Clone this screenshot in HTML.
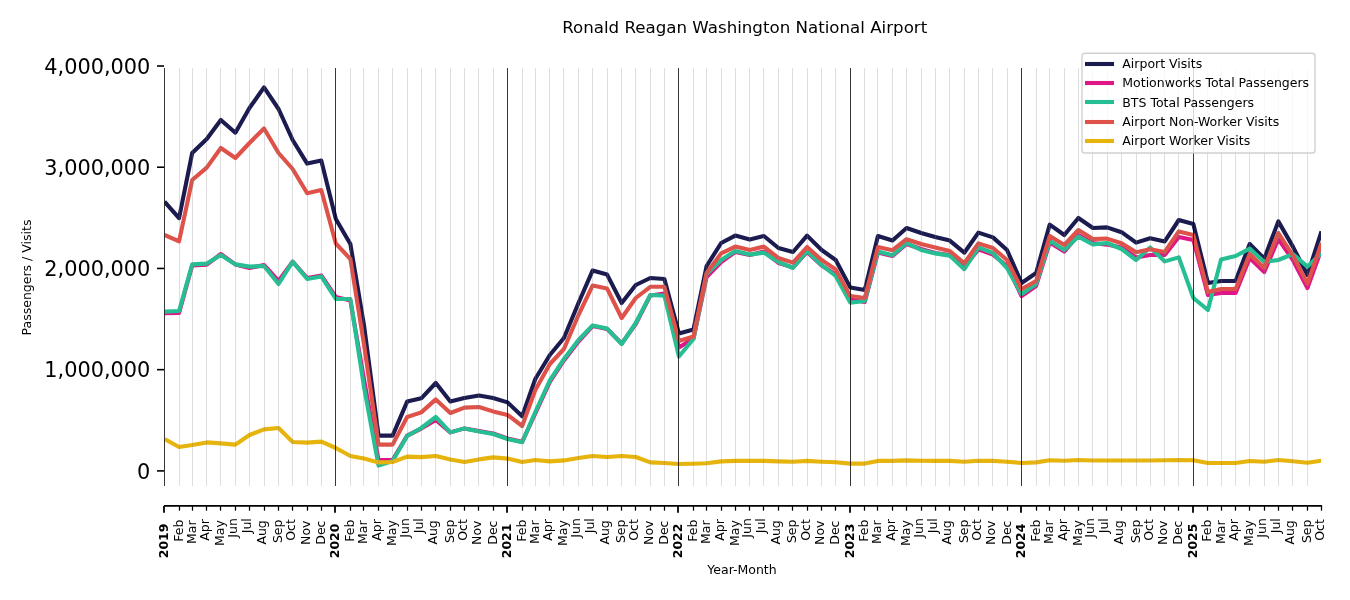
<!DOCTYPE html>
<html lang="en"><head><meta charset="utf-8"><title>Ronald Reagan Washington National Airport</title>
<style>
html,body{margin:0;padding:0;background:#fff;}
body{width:1350px;height:600px;overflow:hidden;}
svg{display:block;font-family:"DejaVu Sans","Liberation Sans",sans-serif;fill:#000;}
.grid line{stroke:#808080;stroke-opacity:0.26;stroke-width:1;shape-rendering:crispEdges;}
.yr line{stroke:#000;stroke-opacity:0.78;stroke-width:1;shape-rendering:crispEdges;}
.ser polyline{fill:none;stroke-width:4.1;stroke-linejoin:round;stroke-linecap:butt;}
.ytl text{font-size:20.83px;text-anchor:end;}
.xtl text{font-size:12.5px;text-anchor:end;}
.xtl text.y{font-size:12.5px;font-weight:bold;}
.leg text{font-size:12.5px;}
</style></head><body>
<svg width="1350" height="600" viewBox="0 0 1350 600">
<rect width="1350" height="600" fill="#fff"/>
<clipPath id="ax"><rect x="164.50" y="68.30" width="1156.50" height="417.20"/></clipPath>

<g class="ser" clip-path="url(#ax)">
<polyline stroke="#1b1b50" points="164.50,201.60 179.05,218.20 192.19,153.00 206.74,139.00 220.82,120.00 235.38,132.70 249.46,108.00 264.01,87.40 278.56,109.00 292.64,140.00 307.19,163.60 321.27,160.50 335.82,219.00 350.37,244.00 363.98,325.00 378.53,435.60 392.61,435.60 407.16,401.60 421.25,398.30 435.80,383.00 450.35,401.60 464.43,398.00 478.98,395.60 493.06,398.00 507.61,402.40 522.16,416.30 535.30,379.00 549.85,355.00 563.93,338.00 578.49,303.00 592.57,270.60 607.12,274.60 621.67,303.00 635.75,285.00 650.30,278.00 664.38,279.00 678.93,333.50 693.48,329.50 706.62,266.00 721.17,243.00 735.26,235.60 749.81,239.60 763.89,236.00 778.44,248.00 792.99,252.00 807.07,235.60 821.62,250.00 835.70,260.00 850.25,287.40 864.80,290.00 877.94,236.00 892.49,240.50 906.58,228.00 921.13,233.00 935.21,237.00 949.76,240.60 964.31,252.70 978.39,232.60 992.94,237.40 1007.02,250.00 1021.57,283.00 1036.12,273.00 1049.73,224.60 1064.28,235.00 1078.37,218.00 1092.92,228.00 1107.00,227.40 1121.55,232.20 1136.10,242.60 1150.18,238.30 1164.73,241.40 1178.81,220.00 1193.36,224.00 1207.91,283.00 1221.05,281.00 1235.61,281.00 1249.69,244.00 1264.24,258.70 1278.32,221.40 1292.87,246.60 1307.42,275.00 1321.50,231.40"/>
<polyline stroke="#de1686" points="164.50,313.20 179.05,313.00 192.19,265.40 206.74,264.60 220.82,254.00 235.38,264.40 249.46,268.00 264.01,265.00 278.56,281.00 292.64,261.60 307.19,278.00 321.27,275.50 335.82,297.00 350.37,300.50 363.98,379.00 378.53,460.00 392.61,460.00 407.16,435.60 421.25,428.60 435.80,420.00 450.35,432.40 464.43,428.40 478.98,431.00 493.06,433.50 507.61,438.50 522.16,441.80 535.30,413.50 549.85,382.00 563.93,360.50 578.49,341.50 592.57,326.00 607.12,329.00 621.67,343.50 635.75,324.00 650.30,295.50 664.38,293.50 678.93,347.50 693.48,338.50 706.62,277.00 721.17,262.00 735.26,252.00 749.81,255.00 763.89,251.60 778.44,263.00 792.99,267.40 807.07,252.00 821.62,265.40 835.70,274.40 850.25,299.40 864.80,302.00 877.94,252.40 892.49,256.00 906.58,244.00 921.13,249.00 935.21,253.00 949.76,255.00 964.31,267.00 978.39,249.40 992.94,254.60 1007.02,266.00 1021.57,296.00 1036.12,286.00 1049.73,242.60 1064.28,251.60 1078.37,235.00 1092.92,243.00 1107.00,244.60 1121.55,247.40 1136.10,257.40 1150.18,255.00 1164.73,255.00 1178.81,237.00 1193.36,240.00 1207.91,295.00 1221.05,293.00 1235.61,293.00 1249.69,258.00 1264.24,272.00 1278.32,239.00 1292.87,260.00 1307.42,288.00 1321.50,249.00"/>
<polyline stroke="#26bf94" points="164.50,311.60 179.05,311.00 192.19,264.40 206.74,263.60 220.82,255.00 235.38,264.40 249.46,266.60 264.01,266.00 278.56,284.00 292.64,261.60 307.19,279.00 321.27,276.40 335.82,299.00 350.37,299.00 363.98,387.00 378.53,465.60 392.61,461.00 407.16,436.00 421.25,428.00 435.80,417.00 450.35,432.40 464.43,428.40 478.98,431.60 493.06,434.00 507.61,439.00 522.16,442.30 535.30,412.00 549.85,380.40 563.93,359.00 578.49,340.00 592.57,325.40 607.12,328.60 621.67,344.00 635.75,323.00 650.30,295.00 664.38,295.60 678.93,356.50 693.48,339.00 706.62,274.00 721.17,260.00 735.26,251.00 749.81,254.60 763.89,252.60 778.44,262.00 792.99,268.00 807.07,251.00 821.62,265.00 835.70,276.00 850.25,302.60 864.80,301.00 877.94,251.40 892.49,255.20 906.58,243.00 921.13,250.00 935.21,253.40 949.76,255.60 964.31,269.20 978.39,247.40 992.94,253.00 1007.02,268.00 1021.57,294.00 1036.12,284.00 1049.73,240.60 1064.28,250.00 1078.37,236.60 1092.92,244.40 1107.00,243.00 1121.55,249.00 1136.10,260.00 1150.18,247.50 1164.73,261.40 1178.81,257.40 1193.36,298.00 1207.91,310.00 1221.05,259.40 1235.61,256.00 1249.69,248.60 1264.24,262.00 1278.32,260.00 1292.87,254.00 1307.42,266.60 1321.50,253.00"/>
<polyline stroke="#df524a" points="164.50,235.00 179.05,241.40 192.19,180.00 206.74,167.60 220.82,148.00 235.38,158.00 249.46,143.00 264.01,128.50 278.56,153.00 292.64,169.00 307.19,193.20 321.27,190.00 335.82,243.50 350.37,259.00 363.98,344.40 378.53,444.60 392.61,444.60 407.16,417.00 421.25,412.40 435.80,399.40 450.35,413.00 464.43,407.60 478.98,407.00 493.06,411.40 507.61,415.00 522.16,426.00 535.30,390.00 549.85,364.00 563.93,349.00 578.49,315.00 592.57,285.60 607.12,288.60 621.67,318.00 635.75,298.00 650.30,286.80 664.38,286.80 678.93,341.00 693.48,336.50 706.62,273.00 721.17,253.40 735.26,246.60 749.81,250.00 763.89,246.60 778.44,258.00 792.99,262.60 807.07,247.00 821.62,260.00 835.70,269.40 850.25,296.00 864.80,298.00 877.94,247.00 892.49,250.20 906.58,239.20 921.13,244.00 935.21,247.40 949.76,251.00 964.31,263.20 978.39,243.40 992.94,248.00 1007.02,260.00 1021.57,289.00 1036.12,281.00 1049.73,236.00 1064.28,245.00 1078.37,230.00 1092.92,239.00 1107.00,238.60 1121.55,243.20 1136.10,252.20 1150.18,249.30 1164.73,252.00 1178.81,231.40 1193.36,235.00 1207.91,292.00 1221.05,289.00 1235.61,289.00 1249.69,254.00 1264.24,268.00 1278.32,233.00 1292.87,255.40 1307.42,283.60 1321.50,243.00"/>
<polyline stroke="#e6b40c" points="164.50,439.00 179.05,447.00 192.19,445.00 206.74,442.40 220.82,443.40 235.38,444.60 249.46,435.00 264.01,429.40 278.56,428.00 292.64,442.00 307.19,442.60 321.27,441.60 335.82,448.00 350.37,456.00 363.98,458.40 378.53,462.40 392.61,462.00 407.16,456.60 421.25,457.10 435.80,456.00 450.35,459.60 464.43,462.00 478.98,459.40 493.06,457.40 507.61,458.60 522.16,462.00 535.30,460.00 549.85,461.40 563.93,460.40 578.49,458.00 592.57,456.00 607.12,457.00 621.67,456.00 635.75,457.00 650.30,462.40 664.38,463.00 678.93,464.00 693.48,463.70 706.62,463.20 721.17,461.40 735.26,460.90 749.81,460.90 763.89,460.90 778.44,461.40 792.99,461.70 807.07,460.90 821.62,461.70 835.70,462.30 850.25,463.60 864.80,463.60 877.94,460.90 892.49,460.90 906.58,460.40 921.13,460.80 935.21,460.90 949.76,460.90 964.31,461.70 978.39,460.70 992.94,460.90 1007.02,461.70 1021.57,463.00 1036.12,462.40 1049.73,460.30 1064.28,460.80 1078.37,460.00 1092.92,460.50 1107.00,460.50 1121.55,460.50 1136.10,460.50 1150.18,460.50 1164.73,460.30 1178.81,460.00 1193.36,460.20 1207.91,463.00 1221.05,463.00 1235.61,463.00 1249.69,461.00 1264.24,461.70 1278.32,460.00 1292.87,461.30 1307.42,462.70 1321.50,460.70"/>
</g>
<g class="grid">
<line x1="179.05" y1="68.30" x2="179.05" y2="485.50"/>
<line x1="192.19" y1="68.30" x2="192.19" y2="485.50"/>
<line x1="206.74" y1="68.30" x2="206.74" y2="485.50"/>
<line x1="220.82" y1="68.30" x2="220.82" y2="485.50"/>
<line x1="235.38" y1="68.30" x2="235.38" y2="485.50"/>
<line x1="249.46" y1="68.30" x2="249.46" y2="485.50"/>
<line x1="264.01" y1="68.30" x2="264.01" y2="485.50"/>
<line x1="278.56" y1="68.30" x2="278.56" y2="485.50"/>
<line x1="292.64" y1="68.30" x2="292.64" y2="485.50"/>
<line x1="307.19" y1="68.30" x2="307.19" y2="485.50"/>
<line x1="321.27" y1="68.30" x2="321.27" y2="485.50"/>
<line x1="350.37" y1="68.30" x2="350.37" y2="485.50"/>
<line x1="363.98" y1="68.30" x2="363.98" y2="485.50"/>
<line x1="378.53" y1="68.30" x2="378.53" y2="485.50"/>
<line x1="392.61" y1="68.30" x2="392.61" y2="485.50"/>
<line x1="407.16" y1="68.30" x2="407.16" y2="485.50"/>
<line x1="421.25" y1="68.30" x2="421.25" y2="485.50"/>
<line x1="435.80" y1="68.30" x2="435.80" y2="485.50"/>
<line x1="450.35" y1="68.30" x2="450.35" y2="485.50"/>
<line x1="464.43" y1="68.30" x2="464.43" y2="485.50"/>
<line x1="478.98" y1="68.30" x2="478.98" y2="485.50"/>
<line x1="493.06" y1="68.30" x2="493.06" y2="485.50"/>
<line x1="522.16" y1="68.30" x2="522.16" y2="485.50"/>
<line x1="535.30" y1="68.30" x2="535.30" y2="485.50"/>
<line x1="549.85" y1="68.30" x2="549.85" y2="485.50"/>
<line x1="563.93" y1="68.30" x2="563.93" y2="485.50"/>
<line x1="578.49" y1="68.30" x2="578.49" y2="485.50"/>
<line x1="592.57" y1="68.30" x2="592.57" y2="485.50"/>
<line x1="607.12" y1="68.30" x2="607.12" y2="485.50"/>
<line x1="621.67" y1="68.30" x2="621.67" y2="485.50"/>
<line x1="635.75" y1="68.30" x2="635.75" y2="485.50"/>
<line x1="650.30" y1="68.30" x2="650.30" y2="485.50"/>
<line x1="664.38" y1="68.30" x2="664.38" y2="485.50"/>
<line x1="693.48" y1="68.30" x2="693.48" y2="485.50"/>
<line x1="706.62" y1="68.30" x2="706.62" y2="485.50"/>
<line x1="721.17" y1="68.30" x2="721.17" y2="485.50"/>
<line x1="735.26" y1="68.30" x2="735.26" y2="485.50"/>
<line x1="749.81" y1="68.30" x2="749.81" y2="485.50"/>
<line x1="763.89" y1="68.30" x2="763.89" y2="485.50"/>
<line x1="778.44" y1="68.30" x2="778.44" y2="485.50"/>
<line x1="792.99" y1="68.30" x2="792.99" y2="485.50"/>
<line x1="807.07" y1="68.30" x2="807.07" y2="485.50"/>
<line x1="821.62" y1="68.30" x2="821.62" y2="485.50"/>
<line x1="835.70" y1="68.30" x2="835.70" y2="485.50"/>
<line x1="864.80" y1="68.30" x2="864.80" y2="485.50"/>
<line x1="877.94" y1="68.30" x2="877.94" y2="485.50"/>
<line x1="892.49" y1="68.30" x2="892.49" y2="485.50"/>
<line x1="906.58" y1="68.30" x2="906.58" y2="485.50"/>
<line x1="921.13" y1="68.30" x2="921.13" y2="485.50"/>
<line x1="935.21" y1="68.30" x2="935.21" y2="485.50"/>
<line x1="949.76" y1="68.30" x2="949.76" y2="485.50"/>
<line x1="964.31" y1="68.30" x2="964.31" y2="485.50"/>
<line x1="978.39" y1="68.30" x2="978.39" y2="485.50"/>
<line x1="992.94" y1="68.30" x2="992.94" y2="485.50"/>
<line x1="1007.02" y1="68.30" x2="1007.02" y2="485.50"/>
<line x1="1036.12" y1="68.30" x2="1036.12" y2="485.50"/>
<line x1="1049.73" y1="68.30" x2="1049.73" y2="485.50"/>
<line x1="1064.28" y1="68.30" x2="1064.28" y2="485.50"/>
<line x1="1078.37" y1="68.30" x2="1078.37" y2="485.50"/>
<line x1="1092.92" y1="68.30" x2="1092.92" y2="485.50"/>
<line x1="1107.00" y1="68.30" x2="1107.00" y2="485.50"/>
<line x1="1121.55" y1="68.30" x2="1121.55" y2="485.50"/>
<line x1="1136.10" y1="68.30" x2="1136.10" y2="485.50"/>
<line x1="1150.18" y1="68.30" x2="1150.18" y2="485.50"/>
<line x1="1164.73" y1="68.30" x2="1164.73" y2="485.50"/>
<line x1="1178.81" y1="68.30" x2="1178.81" y2="485.50"/>
<line x1="1207.91" y1="68.30" x2="1207.91" y2="485.50"/>
<line x1="1221.05" y1="68.30" x2="1221.05" y2="485.50"/>
<line x1="1235.61" y1="68.30" x2="1235.61" y2="485.50"/>
<line x1="1249.69" y1="68.30" x2="1249.69" y2="485.50"/>
<line x1="1264.24" y1="68.30" x2="1264.24" y2="485.50"/>
<line x1="1278.32" y1="68.30" x2="1278.32" y2="485.50"/>
<line x1="1292.87" y1="68.30" x2="1292.87" y2="485.50"/>
<line x1="1307.42" y1="68.30" x2="1307.42" y2="485.50"/>
</g>
<g class="yr">
<line x1="164.50" y1="68.30" x2="164.50" y2="485.50"/>
<line x1="335.82" y1="68.30" x2="335.82" y2="485.50"/>
<line x1="507.61" y1="68.30" x2="507.61" y2="485.50"/>
<line x1="678.93" y1="68.30" x2="678.93" y2="485.50"/>
<line x1="850.25" y1="68.30" x2="850.25" y2="485.50"/>
<line x1="1021.57" y1="68.30" x2="1021.57" y2="485.50"/>
<line x1="1193.36" y1="68.30" x2="1193.36" y2="485.50"/>
</g>
<g class="ytl">
<line x1="157" y1="470.90" x2="164.1" y2="470.90" stroke="#000" stroke-width="1.6"/>
<text x="150.3" y="478.50">0</text>
<line x1="157" y1="369.67" x2="164.1" y2="369.67" stroke="#000" stroke-width="1.6"/>
<text x="150.3" y="377.27">1,000,000</text>
<line x1="157" y1="268.45" x2="164.1" y2="268.45" stroke="#000" stroke-width="1.6"/>
<text x="150.3" y="276.05">2,000,000</text>
<line x1="157" y1="167.23" x2="164.1" y2="167.23" stroke="#000" stroke-width="1.6"/>
<text x="150.3" y="174.83">3,000,000</text>
<line x1="157" y1="66.00" x2="164.1" y2="66.00" stroke="#000" stroke-width="1.6"/>
<text x="150.3" y="73.60">4,000,000</text>
</g>
<line x1="163.90" y1="505.90" x2="1322.10" y2="505.90" stroke="#000" stroke-width="1.7"/>
<g class="xtl">
<line x1="164.00" y1="505.90" x2="164.00" y2="512.8" stroke="#000" stroke-width="1.8"/>
<text class="y" transform="translate(167.90,523.5) rotate(-90)">2019</text>
<line x1="179.50" y1="505.90" x2="179.50" y2="510.7" stroke="#000" stroke-width="1.25"/>
<text transform="translate(182.80,519.50) rotate(-90)">Feb</text>
<line x1="192.50" y1="505.90" x2="192.50" y2="510.7" stroke="#000" stroke-width="1.25"/>
<text transform="translate(196.17,520.40) rotate(-90)">Mar</text>
<line x1="206.50" y1="505.90" x2="206.50" y2="510.7" stroke="#000" stroke-width="1.25"/>
<text transform="translate(208.60,519.20) rotate(-90)">Apr</text>
<line x1="220.50" y1="505.90" x2="220.50" y2="510.7" stroke="#000" stroke-width="1.25"/>
<text transform="translate(224.10,520.20) rotate(-90)">May</text>
<line x1="235.50" y1="505.90" x2="235.50" y2="510.7" stroke="#000" stroke-width="1.25"/>
<text transform="translate(237.00,518.20) rotate(-90)">Jun</text>
<line x1="249.50" y1="505.90" x2="249.50" y2="510.7" stroke="#000" stroke-width="1.25"/>
<text transform="translate(250.60,518.20) rotate(-90)">Jul</text>
<line x1="264.50" y1="505.90" x2="264.50" y2="510.7" stroke="#000" stroke-width="1.25"/>
<text transform="translate(266.17,520.20) rotate(-90)">Aug</text>
<line x1="278.50" y1="505.90" x2="278.50" y2="510.7" stroke="#000" stroke-width="1.25"/>
<text transform="translate(282.17,519.50) rotate(-90)">Sep</text>
<line x1="292.50" y1="505.90" x2="292.50" y2="510.7" stroke="#000" stroke-width="1.25"/>
<text transform="translate(295.00,519.20) rotate(-90)">Oct</text>
<line x1="307.50" y1="505.90" x2="307.50" y2="510.7" stroke="#000" stroke-width="1.25"/>
<text transform="translate(310.17,520.50) rotate(-90)">Nov</text>
<line x1="321.50" y1="505.90" x2="321.50" y2="510.7" stroke="#000" stroke-width="1.25"/>
<text transform="translate(325.17,520.50) rotate(-90)">Dec</text>
<line x1="335.00" y1="505.90" x2="335.00" y2="512.8" stroke="#000" stroke-width="1.8"/>
<text class="y" transform="translate(338.90,523.5) rotate(-90)">2020</text>
<line x1="350.50" y1="505.90" x2="350.50" y2="510.7" stroke="#000" stroke-width="1.25"/>
<text transform="translate(353.80,519.50) rotate(-90)">Feb</text>
<line x1="363.50" y1="505.90" x2="363.50" y2="510.7" stroke="#000" stroke-width="1.25"/>
<text transform="translate(367.17,520.40) rotate(-90)">Mar</text>
<line x1="378.50" y1="505.90" x2="378.50" y2="510.7" stroke="#000" stroke-width="1.25"/>
<text transform="translate(380.60,519.20) rotate(-90)">Apr</text>
<line x1="392.50" y1="505.90" x2="392.50" y2="510.7" stroke="#000" stroke-width="1.25"/>
<text transform="translate(396.10,520.20) rotate(-90)">May</text>
<line x1="407.50" y1="505.90" x2="407.50" y2="510.7" stroke="#000" stroke-width="1.25"/>
<text transform="translate(409.00,518.20) rotate(-90)">Jun</text>
<line x1="421.50" y1="505.90" x2="421.50" y2="510.7" stroke="#000" stroke-width="1.25"/>
<text transform="translate(422.60,518.20) rotate(-90)">Jul</text>
<line x1="435.50" y1="505.90" x2="435.50" y2="510.7" stroke="#000" stroke-width="1.25"/>
<text transform="translate(437.17,520.20) rotate(-90)">Aug</text>
<line x1="450.50" y1="505.90" x2="450.50" y2="510.7" stroke="#000" stroke-width="1.25"/>
<text transform="translate(454.17,519.50) rotate(-90)">Sep</text>
<line x1="464.50" y1="505.90" x2="464.50" y2="510.7" stroke="#000" stroke-width="1.25"/>
<text transform="translate(467.00,519.20) rotate(-90)">Oct</text>
<line x1="478.50" y1="505.90" x2="478.50" y2="510.7" stroke="#000" stroke-width="1.25"/>
<text transform="translate(481.17,520.50) rotate(-90)">Nov</text>
<line x1="493.50" y1="505.90" x2="493.50" y2="510.7" stroke="#000" stroke-width="1.25"/>
<text transform="translate(497.17,520.50) rotate(-90)">Dec</text>
<line x1="507.00" y1="505.90" x2="507.00" y2="512.8" stroke="#000" stroke-width="1.8"/>
<text class="y" transform="translate(510.90,523.5) rotate(-90)">2021</text>
<line x1="522.50" y1="505.90" x2="522.50" y2="510.7" stroke="#000" stroke-width="1.25"/>
<text transform="translate(525.80,519.50) rotate(-90)">Feb</text>
<line x1="535.50" y1="505.90" x2="535.50" y2="510.7" stroke="#000" stroke-width="1.25"/>
<text transform="translate(539.17,520.40) rotate(-90)">Mar</text>
<line x1="549.50" y1="505.90" x2="549.50" y2="510.7" stroke="#000" stroke-width="1.25"/>
<text transform="translate(551.60,519.20) rotate(-90)">Apr</text>
<line x1="563.50" y1="505.90" x2="563.50" y2="510.7" stroke="#000" stroke-width="1.25"/>
<text transform="translate(567.10,520.20) rotate(-90)">May</text>
<line x1="578.50" y1="505.90" x2="578.50" y2="510.7" stroke="#000" stroke-width="1.25"/>
<text transform="translate(580.00,518.20) rotate(-90)">Jun</text>
<line x1="592.50" y1="505.90" x2="592.50" y2="510.7" stroke="#000" stroke-width="1.25"/>
<text transform="translate(593.60,518.20) rotate(-90)">Jul</text>
<line x1="607.50" y1="505.90" x2="607.50" y2="510.7" stroke="#000" stroke-width="1.25"/>
<text transform="translate(609.17,520.20) rotate(-90)">Aug</text>
<line x1="621.50" y1="505.90" x2="621.50" y2="510.7" stroke="#000" stroke-width="1.25"/>
<text transform="translate(625.17,519.50) rotate(-90)">Sep</text>
<line x1="635.50" y1="505.90" x2="635.50" y2="510.7" stroke="#000" stroke-width="1.25"/>
<text transform="translate(638.00,519.20) rotate(-90)">Oct</text>
<line x1="650.50" y1="505.90" x2="650.50" y2="510.7" stroke="#000" stroke-width="1.25"/>
<text transform="translate(653.17,520.50) rotate(-90)">Nov</text>
<line x1="664.50" y1="505.90" x2="664.50" y2="510.7" stroke="#000" stroke-width="1.25"/>
<text transform="translate(668.17,520.50) rotate(-90)">Dec</text>
<line x1="678.00" y1="505.90" x2="678.00" y2="512.8" stroke="#000" stroke-width="1.8"/>
<text class="y" transform="translate(681.90,523.5) rotate(-90)">2022</text>
<line x1="693.50" y1="505.90" x2="693.50" y2="510.7" stroke="#000" stroke-width="1.25"/>
<text transform="translate(696.80,519.50) rotate(-90)">Feb</text>
<line x1="706.50" y1="505.90" x2="706.50" y2="510.7" stroke="#000" stroke-width="1.25"/>
<text transform="translate(710.17,520.40) rotate(-90)">Mar</text>
<line x1="721.50" y1="505.90" x2="721.50" y2="510.7" stroke="#000" stroke-width="1.25"/>
<text transform="translate(723.60,519.20) rotate(-90)">Apr</text>
<line x1="735.50" y1="505.90" x2="735.50" y2="510.7" stroke="#000" stroke-width="1.25"/>
<text transform="translate(739.10,520.20) rotate(-90)">May</text>
<line x1="749.50" y1="505.90" x2="749.50" y2="510.7" stroke="#000" stroke-width="1.25"/>
<text transform="translate(751.00,518.20) rotate(-90)">Jun</text>
<line x1="763.50" y1="505.90" x2="763.50" y2="510.7" stroke="#000" stroke-width="1.25"/>
<text transform="translate(764.60,518.20) rotate(-90)">Jul</text>
<line x1="778.50" y1="505.90" x2="778.50" y2="510.7" stroke="#000" stroke-width="1.25"/>
<text transform="translate(780.17,520.20) rotate(-90)">Aug</text>
<line x1="792.50" y1="505.90" x2="792.50" y2="510.7" stroke="#000" stroke-width="1.25"/>
<text transform="translate(796.17,519.50) rotate(-90)">Sep</text>
<line x1="807.50" y1="505.90" x2="807.50" y2="510.7" stroke="#000" stroke-width="1.25"/>
<text transform="translate(810.00,519.20) rotate(-90)">Oct</text>
<line x1="821.50" y1="505.90" x2="821.50" y2="510.7" stroke="#000" stroke-width="1.25"/>
<text transform="translate(824.17,520.50) rotate(-90)">Nov</text>
<line x1="835.50" y1="505.90" x2="835.50" y2="510.7" stroke="#000" stroke-width="1.25"/>
<text transform="translate(839.17,520.50) rotate(-90)">Dec</text>
<line x1="850.00" y1="505.90" x2="850.00" y2="512.8" stroke="#000" stroke-width="1.8"/>
<text class="y" transform="translate(853.90,523.5) rotate(-90)">2023</text>
<line x1="864.50" y1="505.90" x2="864.50" y2="510.7" stroke="#000" stroke-width="1.25"/>
<text transform="translate(867.80,519.50) rotate(-90)">Feb</text>
<line x1="877.50" y1="505.90" x2="877.50" y2="510.7" stroke="#000" stroke-width="1.25"/>
<text transform="translate(881.17,520.40) rotate(-90)">Mar</text>
<line x1="892.50" y1="505.90" x2="892.50" y2="510.7" stroke="#000" stroke-width="1.25"/>
<text transform="translate(894.60,519.20) rotate(-90)">Apr</text>
<line x1="906.50" y1="505.90" x2="906.50" y2="510.7" stroke="#000" stroke-width="1.25"/>
<text transform="translate(910.10,520.20) rotate(-90)">May</text>
<line x1="921.50" y1="505.90" x2="921.50" y2="510.7" stroke="#000" stroke-width="1.25"/>
<text transform="translate(923.00,518.20) rotate(-90)">Jun</text>
<line x1="935.50" y1="505.90" x2="935.50" y2="510.7" stroke="#000" stroke-width="1.25"/>
<text transform="translate(936.60,518.20) rotate(-90)">Jul</text>
<line x1="949.50" y1="505.90" x2="949.50" y2="510.7" stroke="#000" stroke-width="1.25"/>
<text transform="translate(951.17,520.20) rotate(-90)">Aug</text>
<line x1="964.50" y1="505.90" x2="964.50" y2="510.7" stroke="#000" stroke-width="1.25"/>
<text transform="translate(968.17,519.50) rotate(-90)">Sep</text>
<line x1="978.50" y1="505.90" x2="978.50" y2="510.7" stroke="#000" stroke-width="1.25"/>
<text transform="translate(981.00,519.20) rotate(-90)">Oct</text>
<line x1="992.50" y1="505.90" x2="992.50" y2="510.7" stroke="#000" stroke-width="1.25"/>
<text transform="translate(995.17,520.50) rotate(-90)">Nov</text>
<line x1="1007.50" y1="505.90" x2="1007.50" y2="510.7" stroke="#000" stroke-width="1.25"/>
<text transform="translate(1011.17,520.50) rotate(-90)">Dec</text>
<line x1="1021.00" y1="505.90" x2="1021.00" y2="512.8" stroke="#000" stroke-width="1.8"/>
<text class="y" transform="translate(1024.90,523.5) rotate(-90)">2024</text>
<line x1="1036.50" y1="505.90" x2="1036.50" y2="510.7" stroke="#000" stroke-width="1.25"/>
<text transform="translate(1039.80,519.50) rotate(-90)">Feb</text>
<line x1="1049.50" y1="505.90" x2="1049.50" y2="510.7" stroke="#000" stroke-width="1.25"/>
<text transform="translate(1053.17,520.40) rotate(-90)">Mar</text>
<line x1="1064.50" y1="505.90" x2="1064.50" y2="510.7" stroke="#000" stroke-width="1.25"/>
<text transform="translate(1066.60,519.20) rotate(-90)">Apr</text>
<line x1="1078.50" y1="505.90" x2="1078.50" y2="510.7" stroke="#000" stroke-width="1.25"/>
<text transform="translate(1082.10,520.20) rotate(-90)">May</text>
<line x1="1092.50" y1="505.90" x2="1092.50" y2="510.7" stroke="#000" stroke-width="1.25"/>
<text transform="translate(1094.00,518.20) rotate(-90)">Jun</text>
<line x1="1106.50" y1="505.90" x2="1106.50" y2="510.7" stroke="#000" stroke-width="1.25"/>
<text transform="translate(1107.60,518.20) rotate(-90)">Jul</text>
<line x1="1121.50" y1="505.90" x2="1121.50" y2="510.7" stroke="#000" stroke-width="1.25"/>
<text transform="translate(1123.17,520.20) rotate(-90)">Aug</text>
<line x1="1136.50" y1="505.90" x2="1136.50" y2="510.7" stroke="#000" stroke-width="1.25"/>
<text transform="translate(1140.17,519.50) rotate(-90)">Sep</text>
<line x1="1150.50" y1="505.90" x2="1150.50" y2="510.7" stroke="#000" stroke-width="1.25"/>
<text transform="translate(1153.00,519.20) rotate(-90)">Oct</text>
<line x1="1164.50" y1="505.90" x2="1164.50" y2="510.7" stroke="#000" stroke-width="1.25"/>
<text transform="translate(1167.17,520.50) rotate(-90)">Nov</text>
<line x1="1178.50" y1="505.90" x2="1178.50" y2="510.7" stroke="#000" stroke-width="1.25"/>
<text transform="translate(1182.17,520.50) rotate(-90)">Dec</text>
<line x1="1193.00" y1="505.90" x2="1193.00" y2="512.8" stroke="#000" stroke-width="1.8"/>
<text class="y" transform="translate(1196.90,523.5) rotate(-90)">2025</text>
<line x1="1207.50" y1="505.90" x2="1207.50" y2="510.7" stroke="#000" stroke-width="1.25"/>
<text transform="translate(1210.80,519.50) rotate(-90)">Feb</text>
<line x1="1221.50" y1="505.90" x2="1221.50" y2="510.7" stroke="#000" stroke-width="1.25"/>
<text transform="translate(1225.17,520.40) rotate(-90)">Mar</text>
<line x1="1235.50" y1="505.90" x2="1235.50" y2="510.7" stroke="#000" stroke-width="1.25"/>
<text transform="translate(1237.60,519.20) rotate(-90)">Apr</text>
<line x1="1249.50" y1="505.90" x2="1249.50" y2="510.7" stroke="#000" stroke-width="1.25"/>
<text transform="translate(1253.10,520.20) rotate(-90)">May</text>
<line x1="1264.50" y1="505.90" x2="1264.50" y2="510.7" stroke="#000" stroke-width="1.25"/>
<text transform="translate(1266.00,518.20) rotate(-90)">Jun</text>
<line x1="1278.50" y1="505.90" x2="1278.50" y2="510.7" stroke="#000" stroke-width="1.25"/>
<text transform="translate(1279.60,518.20) rotate(-90)">Jul</text>
<line x1="1292.50" y1="505.90" x2="1292.50" y2="510.7" stroke="#000" stroke-width="1.25"/>
<text transform="translate(1294.17,520.20) rotate(-90)">Aug</text>
<line x1="1307.50" y1="505.90" x2="1307.50" y2="510.7" stroke="#000" stroke-width="1.25"/>
<text transform="translate(1311.17,519.50) rotate(-90)">Sep</text>
<line x1="1321.50" y1="505.90" x2="1321.50" y2="510.7" stroke="#000" stroke-width="1.25"/>
<text transform="translate(1324.00,519.20) rotate(-90)">Oct</text>
</g>
<text x="744.7" y="33.2" text-anchor="middle" font-size="16.67">Ronald Reagan Washington National Airport</text>
<text x="742" y="573.6" text-anchor="middle" font-size="12.5">Year-Month</text>
<text transform="translate(31,277.5) rotate(-90)" text-anchor="middle" font-size="12.5">Passengers / Visits</text>
<g class="leg">
<rect x="1082" y="53.2" width="233" height="99.8" rx="2.8" ry="2.8" fill="#fff" fill-opacity="0.8" stroke="#cccccc" stroke-opacity="0.9" stroke-width="1.4"/>
<line x1="1085" y1="64.00" x2="1114" y2="64.00" stroke="#1b1b50" stroke-width="4.1"/>
<text x="1122.3" y="67.90">Airport Visits</text>
<line x1="1085" y1="83.00" x2="1114" y2="83.00" stroke="#de1686" stroke-width="4.1"/>
<text x="1122.3" y="86.90">Motionworks Total Passengers</text>
<line x1="1085" y1="102.00" x2="1114" y2="102.00" stroke="#26bf94" stroke-width="4.1"/>
<text x="1122.3" y="106.90">BTS Total Passengers</text>
<line x1="1085" y1="122.00" x2="1114" y2="122.00" stroke="#df524a" stroke-width="4.1"/>
<text x="1122.3" y="125.90">Airport Non-Worker Visits</text>
<line x1="1085" y1="141.00" x2="1114" y2="141.00" stroke="#e6b40c" stroke-width="4.1"/>
<text x="1122.3" y="144.90">Airport Worker Visits</text>
</g>
</svg></body></html>
